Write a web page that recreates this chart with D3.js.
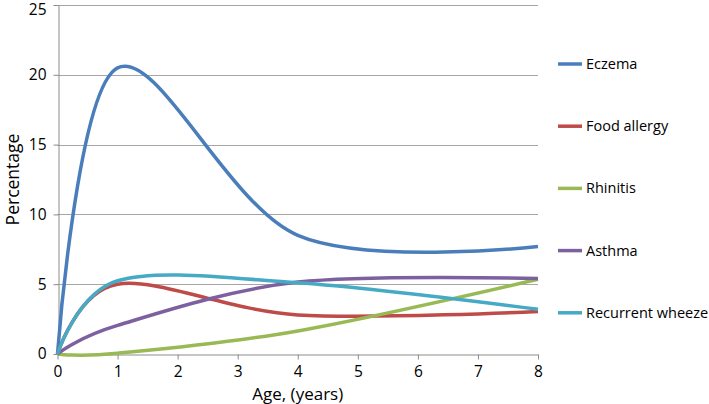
<!DOCTYPE html>
<html>
<head>
<meta charset="utf-8">
<script src="https://cdn.jsdelivr.net/npm/d3@7"></script>
<style>
  body { margin: 0; background: #fff; }
  text { font-family: 'Open Sans', sans-serif; fill: #000; }
</style>
</head>
<body>
<div id="chart"></div>
<script>
// ages where the values were read
var ages = [0, 1, 4, 8]

var eczema = [0, 20.5, 8.5, 7.7]
var foodAllergy = [0, 5.0, 2.8, 3.05]
var rhinitis = [0, 0.05, 1.65, 5.35]
var asthma = [0, 2.05, 5.15, 5.4]
var wheeze = [0, 5.25, 5.1, 3.2]

var seriesNames = ['Eczema', 'Food allergy', 'Rhinitis', 'Asthma', 'Recurrent wheeze']
var seriesValues = [eczema, foodAllergy, rhinitis, asthma, wheeze]
var colors = ['#4a7ebb', '#be4b48', '#98b954', '#7d60a0', '#46aac5']

var xTicks = [0, 1, 2, 3, 4, 5, 6, 7, 8]
var yTicks = [0, 5, 10, 15, 20, 25]

var width = 709
var height = 404
var margin = { top: 5, right: 171, bottom: 50, left: 57.5 }

var svg = d3.select('#chart').append('svg')
  .attr('width', width)
  .attr('height', height)

var x = d3.scaleLinear()
  .domain([0, 8])
  .range([margin.left, width - margin.right])

var y = d3.scaleLinear()
  .domain([0, 25])
  .range([height - margin.bottom, margin.top])

// gridlines
svg.append('g')
  .selectAll('line')
  .data(yTicks.slice(1))
  .enter()
  .append('line')
  .attr('x1', x(0))
  .attr('x2', x(8))
  .attr('y1', d => Math.round(y(d)) + 0.5)
  .attr('y2', d => Math.round(y(d)) + 0.5)
  .attr('stroke', '#a6a6a6')
  .attr('stroke-width', 1)

var yAxis = g => g
  .attr('transform', `translate(${Math.round(x(0)) + 0.5},0)`)
  .call(d3.axisLeft(y).tickValues(yTicks).tickSize(5).tickPadding(7).tickSizeOuter(0))
  .call(g => g.selectAll('line, path').attr('stroke', '#8c8c8c'))
  .call(g => g.selectAll('text').style('font-size', '15.5px'))
  // top label sits a little lower so it is not cut off
  .call(g => g.selectAll('.tick text').filter(d => d === 25).attr('dy', '0.62em'))

var xAxis = g => g
  .attr('transform', `translate(0,${Math.round(y(0)) + 0.5})`)
  .call(d3.axisBottom(x).tickValues(xTicks).tickFormat(d3.format('d')).tickSize(5).tickPadding(6).tickSizeOuter(0))
  .call(g => g.selectAll('line, path').attr('stroke', '#8c8c8c'))
  .call(g => g.selectAll('text').style('font-size', '15.5px'))

svg.append('g').call(yAxis)
svg.append('g').call(xAxis)

var line = d3.line()
  .x(d => x(d[0]))
  .y(d => y(d[1]))
  .curve(d3.curveCardinal.tension(0))

svg.append('g')
  .selectAll('path')
  .data(seriesValues)
  .enter()
  .append('path')
  .attr('d', vals => line(ages.map((a, i) => [a, vals[i]])))
  .attr('fill', 'none')
  .attr('stroke', (d, i) => colors[i])
  .attr('stroke-width', 3.5)

// axis titles
svg.append('text')
  .attr('x', (x(0) + x(8)) / 2)
  .attr('y', 400)
  .attr('text-anchor', 'middle')
  .style('font-size', '17px')
  .text('Age, (years)')

svg.append('text')
  .attr('transform', `translate(19,${(y(0) + y(25)) / 2}) rotate(-90)`)
  .attr('text-anchor', 'middle')
  .style('font-size', '17.5px')
  .text('Percentage')

// legend
var legend = svg.append('g')
  .selectAll('g')
  .data(seriesNames)
  .enter()
  .append('g')
  .attr('transform', (d, i) => `translate(558,${64 + i * 62.2})`)

legend.append('line')
  .attr('x1', 0)
  .attr('x2', 24)
  .attr('stroke', (d, i) => colors[i])
  .attr('stroke-width', 3.5)

legend.append('text')
  .attr('x', 28)
  .attr('dy', '0.35em')
  .style('font-size', '14.5px')
  .text(d => d)
</script>
</body>
</html>
